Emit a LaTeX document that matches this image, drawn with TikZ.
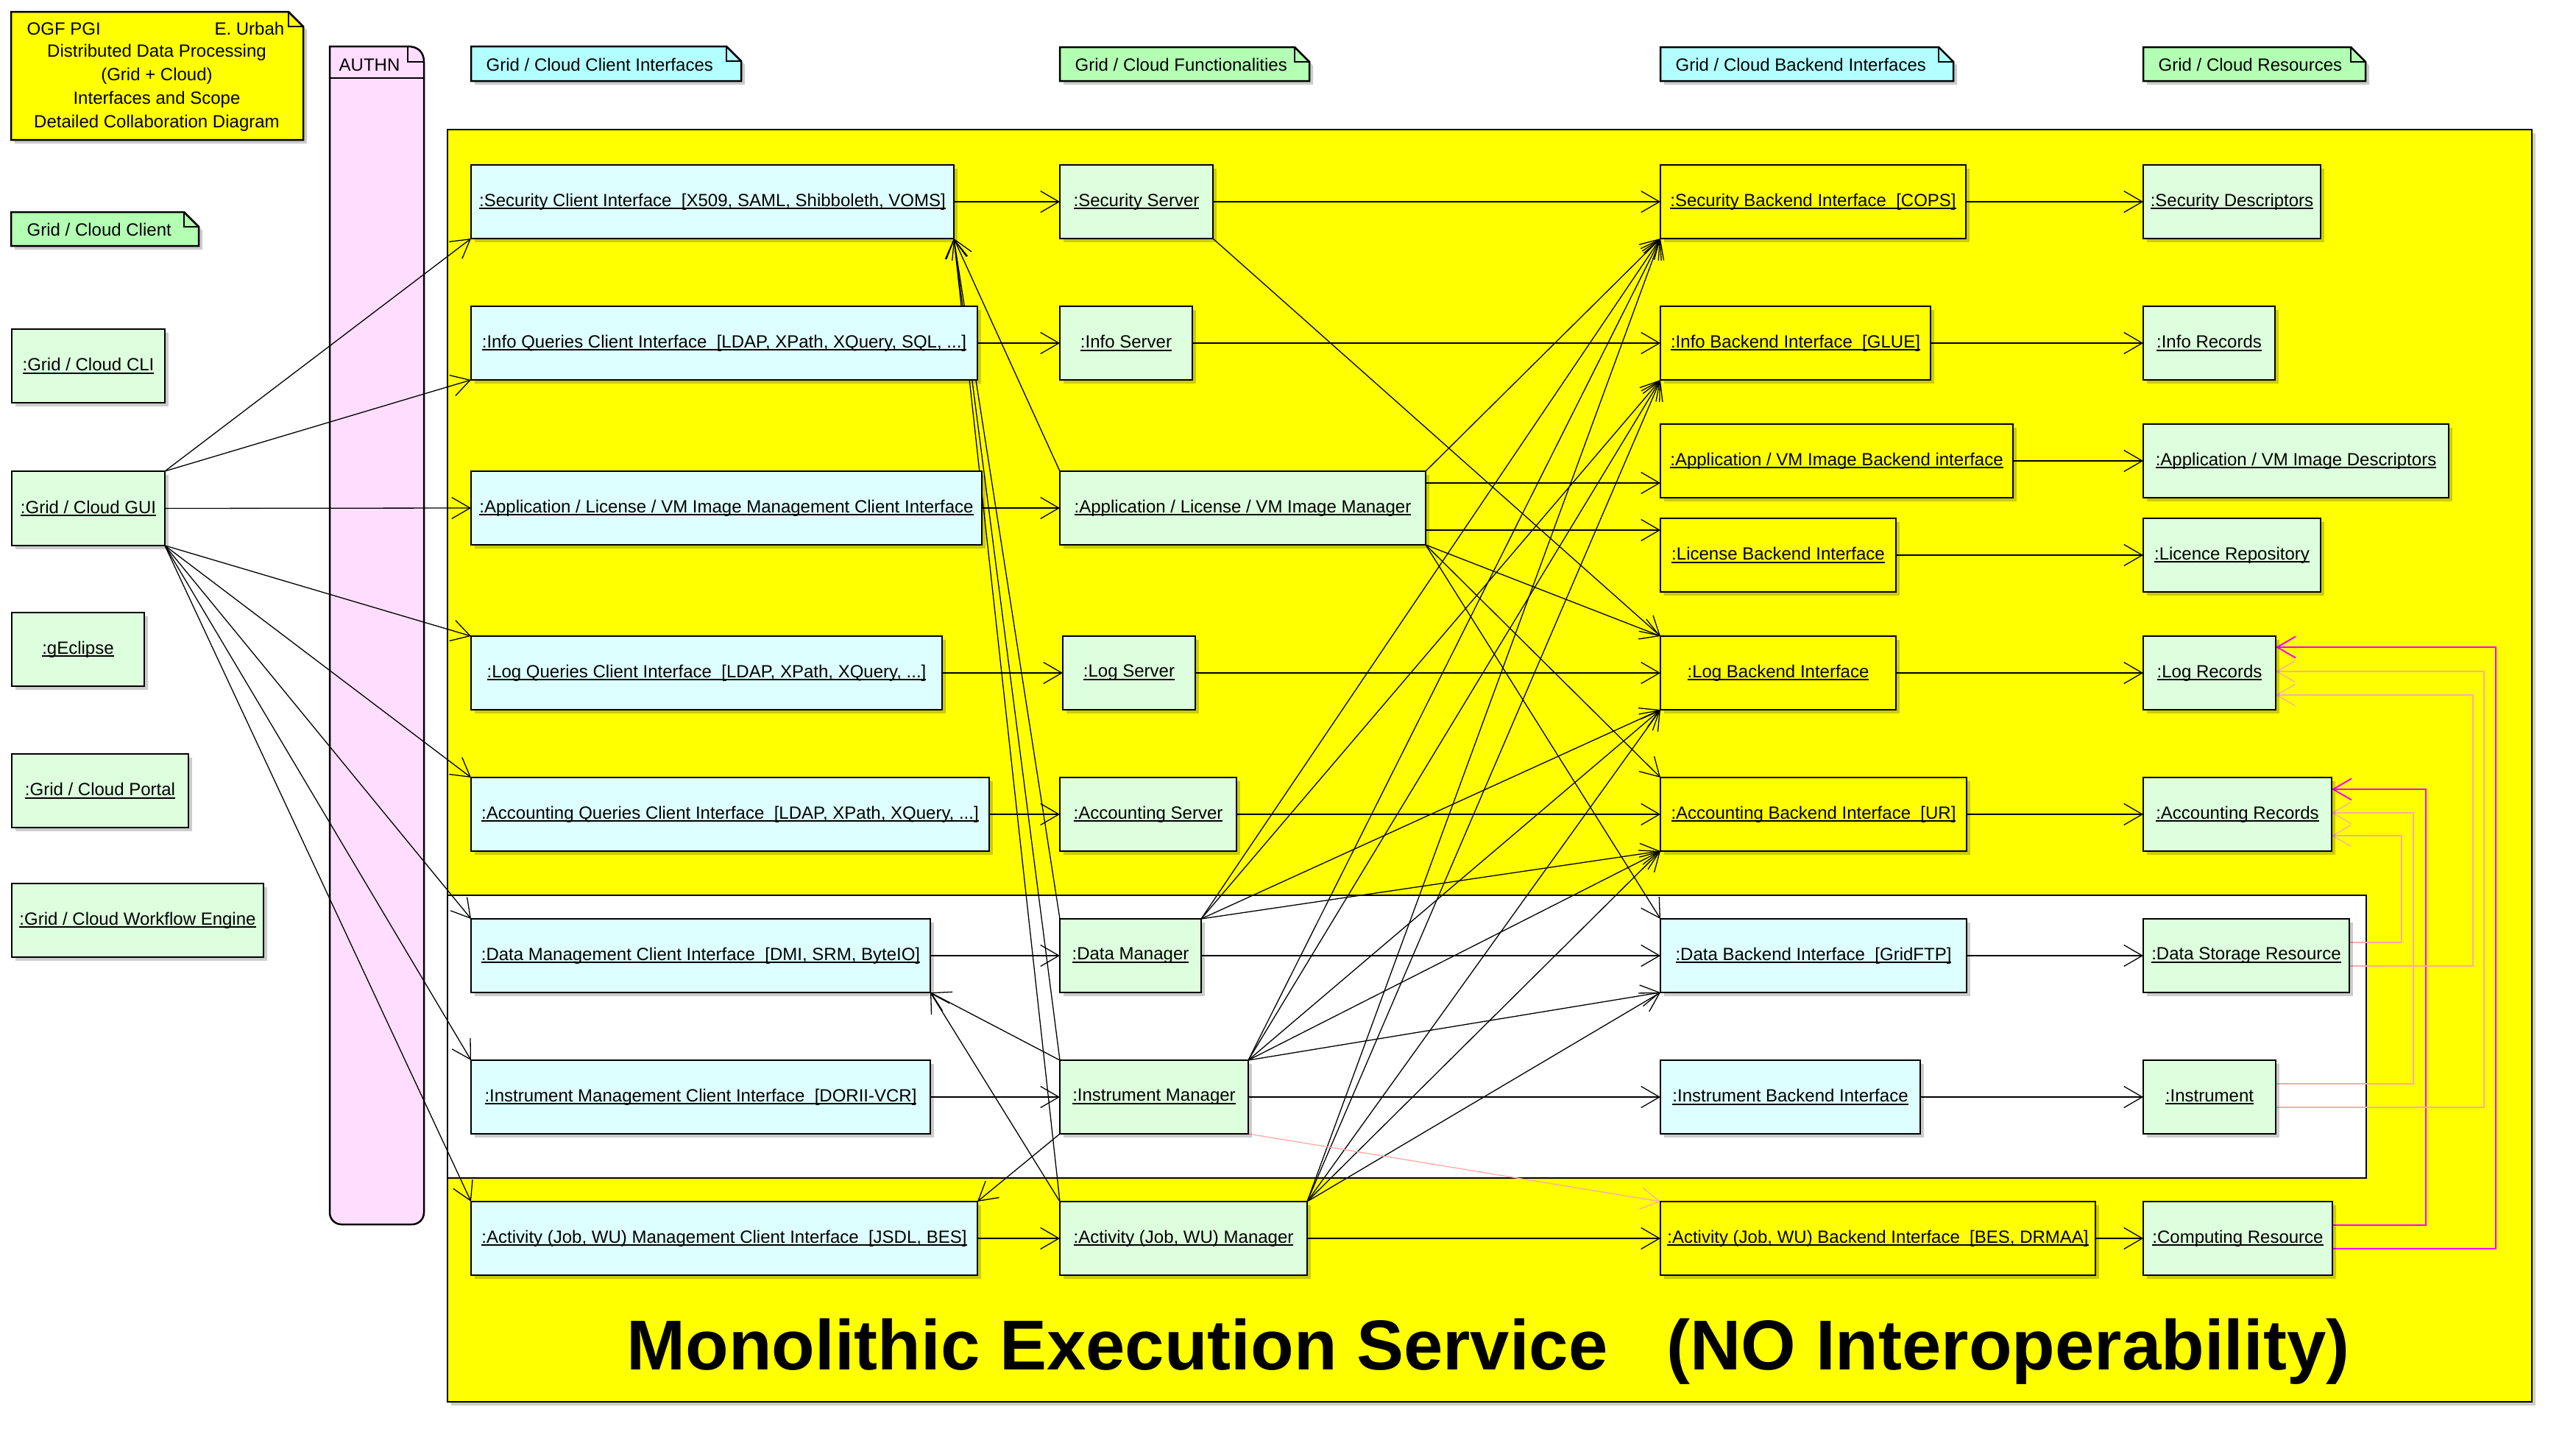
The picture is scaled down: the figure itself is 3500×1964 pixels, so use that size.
\documentclass[tikz,border=0pt]{standalone}
\usepackage{fontspec}
\setmainfont{Liberation Sans}
\usetikzlibrary{arrows.meta,shadows}

\definecolor{nodecyan}{HTML}{DDFFFF}
\definecolor{nodegreen}{HTML}{DDFFDD}
\definecolor{notecyan}{HTML}{B3FFFF}
\definecolor{notegreen}{HTML}{B3FFB3}
\definecolor{authpink}{HTML}{FFDDFF}
\definecolor{linkpink}{HTML}{FFAAAA}
\definecolor{linkmagenta}{HTML}{FF00FF}
\definecolor{frameyellow}{HTML}{FFFF00}

\pgfdeclarelayer{frames}
\pgfdeclarelayer{links}
\pgfsetlayers{frames,links,main}

% underlined object name with a fixed underline position
\newsavebox{\ulinebox}
\newcommand{\ulx}[1]{\sbox{\ulinebox}{#1}\rlap{\rule[-1.1pt]{\wd\ulinebox}{0.5pt}}\usebox{\ulinebox}}
\newcommand{\objfont}{\fontsize{6.83pt}{8pt}\selectfont}

% object box: style, name, x1, y1, x2, y2, label
\newcommand{\objbox}[7]{%
  \pgfmathsetmacro{\objcx}{(#3+#5)/2}%
  \pgfmathsetmacro{\objcy}{(#4+#6)/2}%
  \pgfmathsetmacro{\objw}{(#5-#3)/10}%
  \pgfmathsetmacro{\objh}{(#6-#4)/10}%
  \node[#1, minimum width=\objw mm, minimum height=\objh mm] (#2) at (\objcx,\objcy) {\ulx{#7}};%
}

% note with folded corner: fill, x1, y1, x2, y2
\newcommand{\foldnote}[5]{%
  \fill[black,opacity=0.2] (#2+5,#3+5) -- (#4-15,#3+5) -- (#4+5,#3+25) -- (#4+5,#5+5) -- (#2+5,#5+5) -- cycle;
  \draw[noteline,fill=#1] (#2,#3) -- (#4-20,#3) -- (#4,#3+20) -- (#4,#5) -- (#2,#5) -- cycle;
  \draw[noteline] (#4-20,#3) -- (#4-20,#3+20) -- (#4,#3+20);%
}

\begin{document}
\begin{tikzpicture}[x=0.1mm,y=-0.1mm,
  obj/.style={draw, line width=0.25mm, inner sep=0pt, outer sep=0pt, font=\objfont,
    drop shadow={shadow xshift=0.45mm, shadow yshift=-0.45mm, fill=black, opacity=0.2}},
  cyanobj/.style={obj, fill=nodecyan},
  greenobj/.style={obj, fill=nodegreen},
  yellowobj/.style={obj, fill=frameyellow},
  noteline/.style={line width=0.25mm},
  notetext/.style={font=\objfont, inner sep=0pt, anchor=west},
  link/.style={line width=0.13mm, -{Straight Barb[length=2.5mm,width=2.9mm]}},
  pinklink/.style={link, draw=linkpink},
  maglink/.style={link, draw=linkmagenta, line width=0.2mm},
  frameline/.style={line width=0.22mm}
]
\useasboundingbox (0,0) rectangle (3500,1964);

% ---------- frames ----------
\begin{pgfonlayer}{frames}
  \fill[black,opacity=0.2] (613,181) rectangle (3445,1909);
  \draw[frameline, fill=frameyellow] (608,176) rectangle (3440,1904);
  \draw[frameline, fill=white] (608,1216) rectangle (3215,1600);
  \node[font=\fontsize{27.3pt}{30pt}\selectfont\bfseries, anchor=base, inner sep=0pt] (mestitle)
    at (2022,1860) {Monolithic Execution Service\ \ \ (NO Interoperability)};

  % AUTHN lane
  \draw[noteline, fill=authpink] (448,63) -- (554,63) .. controls (568,63) and (576,71) .. (576,84)
    [rounded corners=1.6mm] -- (576,1663) -- (448,1663) [sharp corners] -- cycle;
  \draw[noteline] (554,63) -- (554,84) -- (576,84);
  \draw[noteline] (448,106) -- (576,106);
  \node[notetext] (authn) at (460,88) {AUTHN};
\end{pgfonlayer}

% ---------- notes ----------
\foldnote{frameyellow}{15}{16}{412}{190}
\node[notetext] (tn1) at (36,39) {OGF PGI};
\node[notetext, anchor=east] (tn2) at (387,39) {E. Urbah};
\node[notetext, anchor=center] (tn3) at (213,71) {Distributed Data Processing};
\node[notetext, anchor=center] (tn4) at (213,103) {(Grid + Cloud)};
\node[notetext, anchor=center] (tn5) at (213,135) {Interfaces and Scope};
\node[notetext, anchor=center] (tn6) at (213,167) {Detailed Collaboration Diagram};

\foldnote{notecyan}{640}{63}{1007}{110}
\node[notetext] (ncli) at (660,88) {Grid / Cloud Client Interfaces};
\foldnote{notegreen}{1440}{64}{1779}{110}
\node[notetext] (nfun) at (1460,88) {Grid / Cloud Functionalities};
\foldnote{notecyan}{2256}{64}{2654}{110}
\node[notetext] (nbck) at (2276,88) {Grid / Cloud Backend Interfaces};
\foldnote{notegreen}{2912}{64}{3214}{110}
\node[notetext] (nres) at (2932,88) {Grid / Cloud Resources};
\foldnote{notegreen}{15}{288}{270}{334}
\node[notetext] (nclient) at (36,312) {Grid / Cloud Client};

% ---------- clients ----------
\objbox{greenobj}{cli}{16}{447}{224}{547}{:Grid / Cloud CLI}
\objbox{greenobj}{gui}{16}{640}{224}{741}{:Grid / Cloud GUI}
\objbox{greenobj}{gecl}{16}{832}{196}{932}{:gEclipse}
\objbox{greenobj}{portal}{16}{1024}{256}{1124}{:Grid / Cloud Portal}
\objbox{greenobj}{wfe}{16}{1200}{358}{1300}{:Grid / Cloud Workflow Engine}

% ---------- client interfaces ----------
\objbox{cyanobj}{sci}{640}{224}{1296}{324}{:Security Client Interface\ \ [X509, SAML, Shibboleth, VOMS]}
\objbox{cyanobj}{iqci}{640}{416}{1328}{516}{:Info Queries Client Interface\ \ [LDAP, XPath, XQuery, SQL, ...]}
\objbox{cyanobj}{amci}{640}{640}{1334}{740}{:Application / License / VM Image Management Client Interface}
\objbox{cyanobj}{lqci}{640}{864}{1280}{964}{:Log Queries Client Interface\ \ [LDAP, XPath, XQuery, ...]}
\objbox{cyanobj}{aqci}{640}{1056}{1344}{1156}{:Accounting Queries Client Interface\ \ [LDAP, XPath, XQuery, ...]}
\objbox{cyanobj}{dmci}{640}{1248}{1264}{1348}{:Data Management Client Interface\ \ [DMI, SRM, ByteIO]}
\objbox{cyanobj}{imci}{640}{1440}{1264}{1540}{:Instrument Management Client Interface\ \ [DORII-VCR]}
\objbox{cyanobj}{acci}{640}{1632}{1328}{1732}{:Activity (Job, WU) Management Client Interface\ \ [JSDL, BES]}

% ---------- functionalities ----------
\objbox{greenobj}{secsrv}{1440}{224}{1648}{324}{:Security Server}
\objbox{greenobj}{infosrv}{1440}{416}{1620}{516}{:Info Server}
\objbox{greenobj}{appmgr}{1440}{640}{1937}{740}{:Application / License / VM Image Manager}
\objbox{greenobj}{logsrv}{1444}{864}{1624}{964}{:Log Server}
\objbox{greenobj}{accsrv}{1440}{1056}{1680}{1156}{:Accounting Server}
\objbox{greenobj}{datamgr}{1440}{1248}{1632}{1348}{:Data Manager}
\objbox{greenobj}{instmgr}{1440}{1440}{1696}{1540}{:Instrument Manager}
\objbox{greenobj}{actmgr}{1440}{1632}{1776}{1732}{:Activity (Job, WU) Manager}

% ---------- backend interfaces ----------
\objbox{yellowobj}{secbe}{2256}{224}{2671}{324}{:Security Backend Interface\ \ [COPS]}
\objbox{yellowobj}{infobe}{2256}{416}{2623}{516}{:Info Backend Interface\ \ [GLUE]}
\objbox{yellowobj}{appbe}{2256}{576}{2735}{676}{:Application / VM Image Backend interface}
\objbox{yellowobj}{licbe}{2256}{704}{2576}{804}{:License Backend Interface}
\objbox{yellowobj}{logbe}{2256}{864}{2576}{964}{:Log Backend Interface}
\objbox{yellowobj}{accbe}{2256}{1056}{2672}{1156}{:Accounting Backend Interface\ \ [UR]}
\objbox{cyanobj}{databe}{2256}{1248}{2672}{1348}{:Data Backend Interface\ \ [GridFTP]}
\objbox{cyanobj}{instbe}{2256}{1440}{2609}{1540}{:Instrument Backend Interface}
\objbox{yellowobj}{actbe}{2256}{1632}{2847}{1732}{:Activity (Job, WU) Backend Interface\ \ [BES, DRMAA]}

% ---------- resources ----------
\objbox{greenobj}{secdesc}{2912}{224}{3153}{324}{:Security Descriptors}
\objbox{greenobj}{inforec}{2912}{416}{3091}{516}{:Info Records}
\objbox{greenobj}{appdesc}{2912}{576}{3327}{676}{:Application / VM Image Descriptors}
\objbox{greenobj}{licrep}{2912}{704}{3153}{804}{:Licence Repository}
\objbox{greenobj}{logrec}{2912}{864}{3092}{964}{:Log Records}
\objbox{greenobj}{accrec}{2912}{1056}{3168}{1156}{:Accounting Records}
\objbox{greenobj}{dsr}{2912}{1248}{3192}{1348}{:Data Storage Resource}
\objbox{greenobj}{inst}{2912}{1440}{3092}{1540}{:Instrument}
\objbox{greenobj}{cr}{2912}{1632}{3169}{1732}{:Computing Resource}

% ---------- connectors ----------
\begin{pgfonlayer}{links}
  % GUI to client interfaces
  \draw[link] (gui.north east) -- (sci.south west);
  \draw[link] (gui.north east) -- (iqci.south west);
  \draw[link] (gui.east) -- (amci.west);
  \draw[link] (gui.south east) -- (lqci.north west);
  \draw[link] (gui.south east) -- (aqci.north west);
  \draw[link] (gui.south east) -- (dmci.north west);
  \draw[link] (gui.south east) -- (imci.north west);
  \draw[link] (gui.south east) -- (acci.north west);

  % rows
  \draw[link] (sci.east) -- (secsrv.west);
  \draw[link] (secsrv.east) -- (secbe.west);
  \draw[link] (secbe.east) -- (secdesc.west);
  \draw[link] (iqci.east) -- (infosrv.west);
  \draw[link] (infosrv.east) -- (infobe.west);
  \draw[link] (infobe.east) -- (inforec.west);
  \draw[link] (amci.east) -- (appmgr.west);
  \coordinate (amA) at ([yshift=3.4mm]appmgr.east);
  \coordinate (amL) at ([yshift=-3mm]appmgr.east);
  \draw[link] (amA) -- (amA -| appbe.west);
  \draw[link] (amL) -- (amL -| licbe.west);
  \draw[link] (appbe.east) -- (appdesc.west);
  \draw[link] (licbe.east) -- (licrep.west);
  \draw[link] (lqci.east) -- (logsrv.west);
  \draw[link] (logsrv.east) -- (logbe.west);
  \draw[link] (logbe.east) -- (logrec.west);
  \draw[link] (aqci.east) -- (accsrv.west);
  \draw[link] (accsrv.east) -- (accbe.west);
  \draw[link] (accbe.east) -- (accrec.west);
  \draw[link] (dmci.east) -- (datamgr.west);
  \draw[link] (datamgr.east) -- (databe.west);
  \draw[link] (databe.east) -- (dsr.west);
  \draw[link] (imci.east) -- (instmgr.west);
  \draw[link] (instmgr.east) -- (instbe.west);
  \draw[link] (instbe.east) -- (inst.west);
  \draw[link] (acci.east) -- (actmgr.west);
  \draw[link] (actmgr.east) -- (actbe.west);
  \draw[link] (actbe.east) -- (cr.west);

  % managers back to client interfaces
  \draw[link] (appmgr.north west) -- (sci.south east);
  \draw[link] (datamgr.north west) -- (sci.south east);
  \draw[link] (instmgr.north west) -- (sci.south east);
  \draw[link] (actmgr.north west) -- (sci.south east);
  \draw[link] (instmgr.north west) -- (dmci.south east);
  \draw[link] (actmgr.north west) -- (dmci.south east);
  \draw[link] (instmgr.south west) -- (acci.north east);

  % servers and managers to backend interfaces
  \draw[link] (secsrv.south east) -- (logbe.north west);
  \draw[link] (appmgr.north east) -- (secbe.south west);
  \draw[link] (appmgr.south east) -- (logbe.north west);
  \draw[link] (appmgr.south east) -- (accbe.north west);
  \draw[link] (appmgr.south east) -- (databe.north west);
  \foreach \mgr in {datamgr,instmgr,actmgr}{
    \draw[link] (\mgr.north east) -- (secbe.south west);
    \draw[link] (\mgr.north east) -- (infobe.south west);
    \draw[link] (\mgr.north east) -- (logbe.south west);
    \draw[link] (\mgr.north east) -- (accbe.south west);
  }
  \draw[link] (instmgr.north east) -- (databe.south west);
  \draw[link] (actmgr.north east) -- (databe.south west);
  \draw[pinklink] (instmgr.south east) -- (actbe.north west);

  % resources reporting to records
  \draw[maglink] ([yshift=1.8mm]cr.east) -- ++(12.7mm,0) |- ([yshift=3.4mm]accrec.east);
  \draw[maglink] ([yshift=-1.4mm]cr.east) -- ++(22.2mm,0) |- ([yshift=3.5mm]logrec.east);
  \draw[pinklink] ([yshift=1.8mm]dsr.east) -- ++(7.1mm,0) |- ([yshift=-2.9mm]accrec.east);
  \draw[pinklink] ([yshift=-1.4mm]dsr.east) -- ++(16.8mm,0) |- ([yshift=-3.0mm]logrec.east);
  \draw[pinklink] ([yshift=1.8mm]inst.east) -- ++(18.7mm,0) |- ([yshift=0.2mm]accrec.east);
  \draw[pinklink] ([yshift=-1.4mm]inst.east) -- ++(28.3mm,0) |- ([yshift=0.2mm]logrec.east);
\end{pgfonlayer}
\end{tikzpicture}
\end{document}
